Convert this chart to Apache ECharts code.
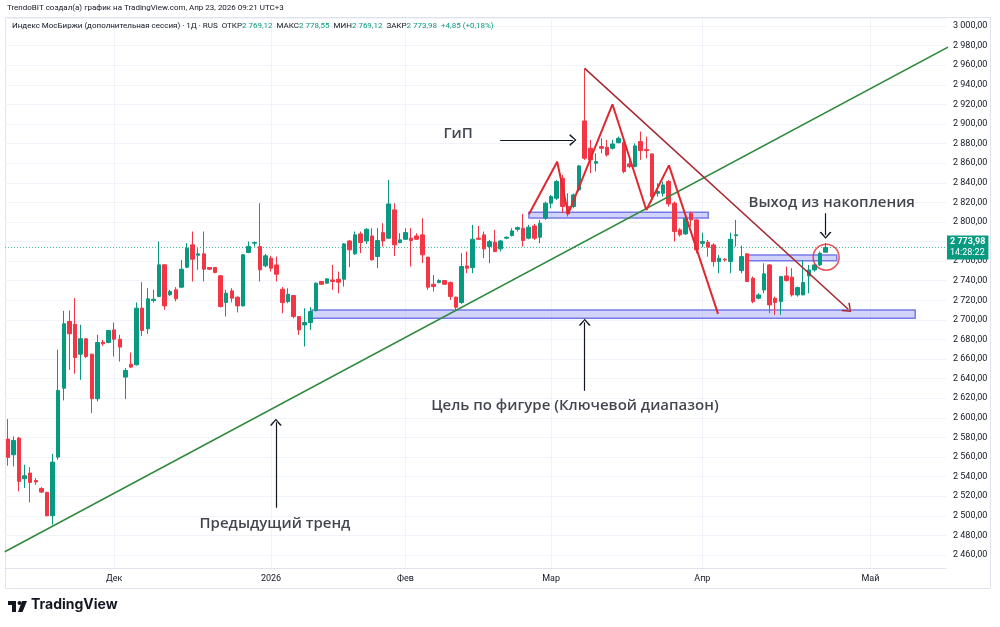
<!DOCTYPE html>
<html><head><meta charset="utf-8">
<script src="https://cdn.jsdelivr.net/npm/echarts@6/dist/echarts.min.js"></script>
<style>html,body{margin:0;padding:0;background:#fff}#c{width:1000px;height:627px}</style>
</head><body><div id="c"></div>
<script>
// ---- data ----
const openP = [
2578.3,2562.3,2579.3,2537.8,2543.6,2536.0,2527.9,2523.9,2500.1,2559.9,
2630.3,2698.4,2695.6,2665.0,2680.7,2665.0,2619.5,2677.3,2676.9,2689.8,
2680.3,2641.6,2654.8,2654.1,2712.0,2690.9,2719.8,2723.9,2756.2,2725.6,
2730.7,2733.4,2753.8,2776.6,2766.0,2767.4,2753.5,2753.5,2745.0,2717.8,
2729.6,2723.2,2714.3,2768.8,2778.3,2774.9,2755.2,2763.0,2756.1,2731.3,
2718.7,2724.9,2703.4,2694.9,2697.3,2709.6,2739.2,2737.5,2740.8,2741.5,
2741.5,2780.6,2767.4,2787.8,2780.6,2785.7,2764.7,2789.1,2783.4,2812.3,
2778.9,2782.3,2783.4,2785.7,2786.8,2764.0,2736.4,2738.1,2740.2,2738.1,
2723.2,2717.7,2755.1,2753.4,2783.4,2786.8,2774.9,2779.3,2772.5,2783.4,
2786.1,2792.5,2793.6,2783.4,2795.9,2784.4,2803.8,2819.1,2824.2,2844.6,
2815.7,2815.7,2832.7,2903.1,2875.2,2859.9,2876.9,2876.2,2875.2,2880.9,
2881.0,2859.2,2856.5,2882.0,2874.1,2869.4,2829.3,2829.3,2841.2,2819.1,
2791.9,2787.8,2808.9,2802.1,2778.2,2779.3,2776.5,2759.5,2761.9,2759.5,
2786.0,2750.3,2767.4,2742.5,2722.1,2730.6,2756.1,2722.1,2718.7,2744.9,
2743.6,2725.5,2725.5,2744.9,2751.0,2756.1,2769.12];
const highP = [
2598.7,2581.0,2580.5,2552.1,2549.7,2538.5,2529.3,2524.5,2563.3,2669.5,
2709.2,2709.6,2722.2,2695.0,2681.3,2665.5,2684.8,2679.6,2689.8,2697.3,
2684.8,2650.7,2666.7,2717.8,2738.5,2732.4,2730.7,2780.0,2756.8,2730.7,
2733.4,2761.3,2778.3,2790.2,2773.2,2790.2,2754.0,2753.8,2746.0,2730.7,
2732.4,2723.9,2767.4,2780.0,2780.0,2819.1,2767.4,2765.4,2764.7,2733.4,
2732.3,2725.5,2704.0,2711.9,2713.0,2738.1,2739.5,2742.2,2756.1,2749.3,
2778.3,2781.7,2790.2,2790.2,2793.6,2793.6,2793.6,2798.7,2842.9,2819.1,
2788.5,2793.6,2793.6,2788.5,2803.8,2764.7,2745.9,2741.5,2740.8,2739.2,
2723.8,2768.1,2769.8,2797.0,2796.0,2790.2,2781.7,2791.9,2781.7,2785.1,
2793.6,2795.3,2808.2,2797.0,2798.0,2802.1,2820.8,2827.6,2842.9,2848.0,
2829.2,2829.0,2858.2,2956.8,2883.7,2870.1,2885.4,2883.7,2883.7,2887.1,
2883.7,2866.7,2880.3,2892.2,2887.1,2870.1,2839.5,2841.2,2842.9,2820.8,
2793.6,2808.9,2810.6,2802.7,2789.1,2781.6,2778.2,2766.3,2762.9,2789.1,
2802.1,2775.8,2768.0,2744.2,2727.2,2757.8,2757.1,2723.8,2745.0,2754.4,
2752.8,2734.0,2761.2,2756.1,2757.1,2769.7,2778.55];
const lowP = [
2551.1,2550.4,2524.9,2528.3,2513.7,2531.7,2523.2,2499.4,2490.9,2557.2,
2617.8,2649.0,2645.0,2638.8,2660.9,2604.8,2616.7,2673.5,2676.2,2662.6,
2657.5,2619.1,2650.7,2653.5,2683.7,2685.8,2717.8,2723.2,2710.3,2724.5,
2718.8,2732.4,2752.8,2739.2,2751.1,2739.2,2750.8,2747.7,2712.6,2703.5,
2717.8,2707.6,2713.8,2768.1,2774.9,2739.2,2753.8,2749.4,2739.2,2706.8,
2717.0,2701.7,2684.7,2672.8,2689.8,2708.5,2735.7,2736.8,2730.6,2727.2,
2734.0,2753.8,2766.4,2768.1,2777.6,2760.6,2752.8,2774.9,2782.8,2765.3,
2778.3,2781.7,2754.5,2781.7,2757.9,2730.6,2728.9,2737.4,2735.7,2720.4,
2710.2,2716.4,2747.7,2747.7,2781.7,2763.0,2757.9,2769.1,2769.8,2782.3,
2785.1,2790.2,2774.9,2782.3,2781.7,2778.3,2802.1,2813.9,2822.5,2808.9,
2805.5,2814.0,2831.0,2863.3,2849.7,2851.4,2870.1,2866.7,2874.0,2880.3,
2849.7,2854.8,2855.8,2863.3,2865.0,2820.8,2825.9,2825.9,2815.7,2780.0,
2785.1,2786.8,2795.2,2768.0,2774.2,2764.6,2754.4,2747.6,2759.5,2747.6,
2774.8,2747.6,2739.1,2717.0,2721.0,2727.2,2706.8,2705.1,2705.1,2739.1,
2723.8,2723.8,2725.5,2727.2,2749.3,2755.1,2769.12];
const closeP = [
2559.6,2576.9,2535.1,2540.9,2534.1,2534.5,2524.2,2500.1,2554.8,2628.0,
2696.0,2685.8,2661.6,2680.7,2662.6,2619.5,2676.9,2675.6,2689.2,2680.3,
2672.2,2648.4,2651.8,2712.0,2689.2,2721.5,2721.1,2756.2,2714.3,2729.0,
2721.5,2751.7,2773.2,2762.0,2767.4,2751.7,2751.7,2748.4,2713.7,2727.3,
2722.2,2714.3,2766.4,2774.9,2779.0,2751.1,2765.4,2752.8,2746.6,2717.7,
2726.2,2703.4,2689.8,2697.3,2708.5,2737.5,2736.4,2741.9,2739.2,2738.5,
2777.6,2771.5,2786.8,2779.0,2792.5,2761.3,2781.0,2780.6,2818.4,2776.6,
2781.7,2789.1,2781.0,2782.3,2766.4,2733.4,2734.0,2740.2,2736.4,2723.8,
2712.9,2754.5,2752.8,2782.3,2782.3,2772.5,2779.9,2769.8,2780.6,2784.4,
2790.8,2794.2,2781.0,2794.6,2783.4,2798.7,2819.1,2825.9,2841.2,2815.7,
2808.2,2827.6,2857.2,2865.0,2863.3,2861.6,2875.2,2868.4,2879.6,2885.4,
2851.4,2856.5,2877.6,2872.8,2872.8,2825.9,2831.0,2837.8,2818.4,2790.2,
2786.8,2803.8,2802.1,2771.4,2779.9,2774.2,2759.5,2762.9,2761.2,2782.3,
2786.8,2764.6,2739.1,2718.7,2725.5,2747.0,2715.3,2717.7,2744.2,2740.2,
2725.5,2733.0,2738.1,2751.0,2756.1,2768.0,2773.98];

const barCount = 168;                       // bars incl. empty future space
const monthTicks = [[19,'Дек'],[47,'2026'],[71,'Фев'],[97,'Мар'],[124,'Апр'],[154,'Май']];
const lastPrice = 2773.98;
const lastLabel = '2 773,98';
const timerLabel = '14:28:22';

// drawings (bar index, price)
const trendUp = [[-0.54, 2463.3], [168.2, 2979.6]];
const trendDown = [[103.0, 2956.8], [150.05, 2710.9]];
const hsZigzag = [[93.04,2807.9],[98.09,2861.5],[100.05,2808.2],[107.95,2920.1],[114.0,2812.2],[118.04,2857.7],[126.8,2706.1]];
const zones = [
  [[93.04, 2810.0], [125.05, 2804.0]],
  [[54.3, 2710.2], [162.0, 2701.7]],
  [[132.2, 2766.3], [148.0, 2760.5]]
];
const breakoutCircle = [146.1, 2764.0];
const notes = [
  {name: 'ГиП', value: [80.4, 2889.8]},
  {name: 'Выход из накопления', value: [147.1, 2819.4]},
  {name: 'Цель по фигуре (Ключевой диапазон)', value: [101.25, 2612.2]},
  {name: 'Предыдущий тренд', value: [47.7, 2491.8]}
];
const arrows = [
  [[87.9, 2883.7], [100.9, 2883.7]],
  [[146.0, 2808.9], [146.0, 2786.5]],
  [[103.0, 2627.6], [103.0, 2697.5]],
  [[47.86, 2508.2], [47.86, 2595.5]]
];

// ---- build ----
const categories = Array.from({length: barCount}, (_, i) => 'b' + i);
const tickMap = {};
monthTicks.forEach(t => { tickMap[t[0]] = t[1]; });
const candles = openP.map((o, i) => [o, closeP[i], lowP[i], highP[i]]);

function fmtPrice(v) {
  const s = v.toFixed(2).split('.');
  return s[0].replace(/\B(?=(\d{3})+(?!\d))/g, ' ') + ',' + s[1];
}

const chevron = 'path://M0,10 L5,0 L10,10 L8.6,10.8 L5,2.6 L1.4,10.8 Z';
const UP = '#089981', DOWN = '#f23645';
const UI_FONT = 'Roboto';

const chart = echarts.init(document.getElementById('c'), null, {renderer: 'canvas'});
chart.setOption({
  animation: false,
  backgroundColor: '#ffffff',
  textStyle: {fontFamily: UI_FONT},
  grid: {left: 5, right: 54, top: 18, bottom: 59, containLabel: false},
  xAxis: [{
    type: 'category', data: categories, boundaryGap: true,
    axisLine: {show: true, lineStyle: {color: '#e0e3eb'}},
    axisTick: {show: false},
    splitLine: {show: false},
    axisLabel: {
      interval: (i) => tickMap[i] !== undefined,
      formatter: (v, i) => tickMap[i] || '',
      color: '#131722', fontSize: 9, margin: 6, fontFamily: UI_FONT
    }
  }, {
    type: 'value', min: -0.5, max: barCount - 0.5, show: false
  }],
  yAxis: {
    type: 'value', position: 'right', scale: true,
    min: 2446.7, max: 3008.2, minInterval: 20, maxInterval: 20, splitNumber: 28,
    axisLine: {show: false}, axisTick: {show: false},
    splitLine: {show: true, lineStyle: {color: '#f0f3fa', width: 1}},
    axisLabel: {
      showMinLabel: false, showMaxLabel: false,
      formatter: fmtPrice, color: '#131722', fontSize: 9, margin: 7, fontFamily: UI_FONT
    }
  },
  series: [
    { // month grid lines
      type: 'line', xAxisIndex: 1, data: [], silent: true, z: 0,
      markLine: {
        silent: true, symbol: 'none', label: {show: false}, z: 0,
        lineStyle: {color: '#f0f3fa', type: 'solid', width: 1},
        data: monthTicks.map(t => ({xAxis: t[0]}))
      }
    },
    { // last-price line with tag
      type: 'line', xAxisIndex: 1, silent: true, z: 2, symbol: 'none', clip: false,
      data: [[-0.5, lastPrice], [barCount - 0.5, lastPrice]],
      lineStyle: {color: '#3fb59c', type: [1, 2], width: 1},
      endLabel: {
        show: true, distance: 1,
        formatter: '{a|' + lastLabel + '}\n{b|' + timerLabel + '}',
        backgroundColor: UP, padding: [1, 3, 1, 3],
        rich: {
          a: {color: '#fff', fontSize: 9, fontWeight: 'bold', lineHeight: 11, fontFamily: UI_FONT},
          b: {color: '#fff', fontSize: 9, lineHeight: 11, fontFamily: UI_FONT}
        }
      }
    },
    {
      type: 'candlestick', xAxisIndex: 0, data: candles, barWidth: 4, z: 3,
      itemStyle: {color: UP, color0: DOWN, borderColor: UP, borderColor0: DOWN, borderWidth: 1}
    },
    { // rising trend line
      type: 'line', xAxisIndex: 1, data: trendUp, symbol: 'none', z: 4, clip: false,
      lineStyle: {color: '#2f8a3c', width: 1.5}, silent: true
    },
    { // head & shoulders zigzag + zones
      type: 'line', xAxisIndex: 1, data: hsZigzag, symbol: 'none', z: 5, silent: true,
      lineStyle: {color: '#e0282e', width: 2},
      markArea: {
        silent: true,
        itemStyle: {color: 'rgba(118,122,240,0.33)', borderColor: '#777be8', borderWidth: 1.5},
        data: zones.map(z => [{coord: z[0]}, {coord: z[1]}])
      }
    },
    { // falling trend line + annotation arrows
      type: 'line', xAxisIndex: 1, data: [], symbol: 'none', z: 6, silent: true,
      markLine: {
        silent: true, label: {show: false}, precision: 2,
        data: [
          [{coord: trendDown[0], symbol: 'none', lineStyle: {color: '#a8262e', width: 1.5, type: 'solid'}},
           {coord: trendDown[1], symbol: chevron, symbolSize: [12, 8]}]
        ].concat(arrows.map(a => [
          {coord: a[0], symbol: 'none', lineStyle: {color: '#131722', width: 1.2, type: 'solid'}},
          {coord: a[1], symbol: chevron, symbolSize: [12, 7]}
        ]))
      }
    },
    { // breakout circle
      type: 'scatter', xAxisIndex: 1, data: [breakoutCircle], symbol: 'circle', symbolSize: 26, z: 7, silent: true,
      itemStyle: {color: 'rgba(0,0,0,0)', borderColor: '#e0282e', borderWidth: 1.5}
    },
    { // text notes
      type: 'scatter', xAxisIndex: 1, data: notes, symbolSize: 0, z: 8, silent: true,
      label: {
        show: true, position: 'inside', formatter: '{b}',
        color: '#131722', fontSize: 15, fontWeight: 600, fontFamily: 'Open Sans'
      }
    }
  ],
  graphic: [
    {type: 'text', left: 7, top: 4, z: 10, style: {
      text: 'TrendoBIT создал(а) график на TradingView.com, Апр 23, 2026 09:21 UTC+3',
      fill: '#131722', fontSize: 8, fontFamily: UI_FONT}},
    {type: 'rect', z: 0, shape: {x: 5.5, y: 17.5, width: 985, height: 571},
      style: {fill: 'none', stroke: '#e0e3eb', lineWidth: 1}},
    {type: 'text', left: 12, top: 22, z: 10, style: {
      text: '{t|Индекс МосБиржи (дополнительная сессия) · 1Д · RUS  ОТКР}{g|2 769,12}{t|  МАКС}{g|2 778,55}{t|  МИН}{g|2 769,12}{t|  ЗАКР}{g|2 773,98}{g|  +4,85 (+0,18%)}',
      rich: {
        t: {fill: '#131722', fontSize: 8, fontFamily: UI_FONT},
        g: {fill: UP, fontSize: 8, fontFamily: UI_FONT}
      }}},
    {type: 'group', left: 8, top: 601, z: 10, children: [
      {type: 'rect', shape: {x: 0, y: 0, width: 8, height: 4}, style: {fill: '#131722'}},
      {type: 'rect', shape: {x: 4, y: 0, width: 4, height: 11}, style: {fill: '#131722'}},
      {type: 'circle', shape: {cx: 11.5, cy: 2, r: 2}, style: {fill: '#131722'}},
      {type: 'polygon', shape: {points: [[14, 0], [19, 0], [14.5, 11], [10, 11]]}, style: {fill: '#131722'}}
    ]},
    {type: 'text', left: 31, top: 598, z: 10, style: {
      text: 'TradingView', fill: '#131722', fontSize: 14, fontWeight: 'bold', fontFamily: 'Inter'}}
  ]
});
</script></body></html>
